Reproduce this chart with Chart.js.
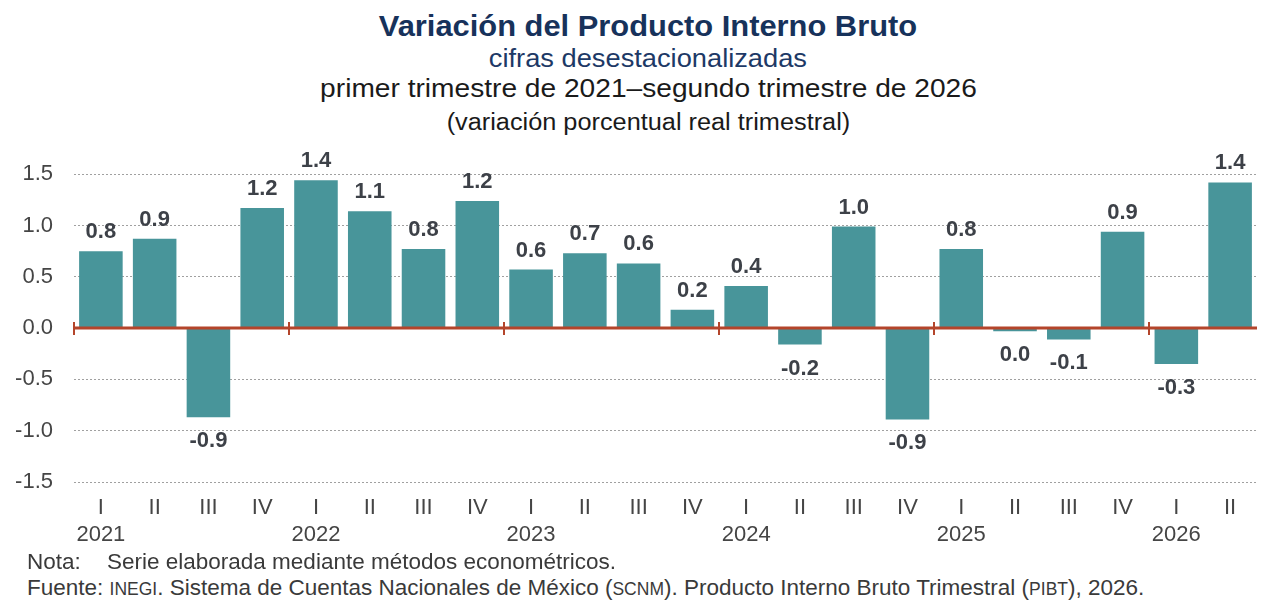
<!DOCTYPE html>
<html>
<head>
<meta charset="utf-8">
<script src="https://cdn.jsdelivr.net/npm/chart.js@4.4.1/dist/chart.umd.min.js"></script>
<style>
  html, body { margin:0; padding:0; background:#ffffff; }
  body { width:1280px; height:609px; position:relative; overflow:hidden; font-family:'Liberation Sans', Arial, sans-serif; }
  .t { position:absolute; left:0; width:1296px; text-align:center; white-space:nowrap; }
  .t span { display:inline-block; transform-origin:50% 50%; }
  .n { position:absolute; white-space:nowrap; font-size:22.5px; line-height:22px; color:#3a3a3a; }
  .sc { font-size:17.5px; }
  #wrap { position:absolute; left:0; top:140px; width:1280px; height:410px; }
</style>
</head>
<body>
<div class="t" style="top:12px;font-size:29px;line-height:29px;font-weight:bold;color:#17325b;"><span style="transform:scaleX(1.064)">Variación del Producto Interno Bruto</span></div>
<div class="t" style="top:46px;font-size:25px;line-height:25px;color:#1d3966;"><span style="transform:scaleX(1.09)">cifras desestacionalizadas</span></div>
<div class="t" style="top:75px;font-size:26px;line-height:26px;color:#1a1a1a;"><span style="transform:scaleX(1.082)">primer trimestre de 2021–segundo trimestre de 2026</span></div>
<div class="t" style="top:111px;font-size:23px;line-height:23px;color:#1a1a1a;"><span style="transform:scaleX(1.10)">(variación porcentual real trimestral)</span></div>

<div id="wrap"><canvas id="c"></canvas></div>

<div class="n" style="left:27px;top:551px;">Nota:</div>
<div class="n" style="left:107px;top:551px;">Serie elaborada mediante métodos econométricos.</div>
<div class="n" style="left:27px;top:577px;">Fuente: <span class="sc">INEGI</span>. Sistema de Cuentas Nacionales de México (<span class="sc">SCNM</span>). Producto Interno Bruto Trimestral (<span class="sc">PIBT</span>), 2026.</div>

<script>
// ---- data ----
const quarters = ["I","II","III","IV","I","II","III","IV","I","II","III","IV","I","II","III","IV","I","II","III","IV","I","II"];
const yearLabels = ["2021","","","","2022","","","","2023","","","","2024","","","","2025","","","","2026",""];
const gdpChange = [0.75,0.87,-0.87,1.17,1.44,1.14,0.77,1.24,0.57,0.73,0.63,0.18,0.41,-0.16,0.99,-0.89,0.77,-0.03,-0.11,0.94,-0.35,1.42];
const valueLabels = ["0.8","0.9","-0.9","1.2","1.4","1.1","0.8","1.2","0.6","0.7","0.6","0.2","0.4","-0.2","1.0","-0.9","0.8","0.0","-0.1","0.9","-0.3","1.4"];
const yTicks = [-1.5,-1.0,-0.5,0.0,0.5,1.0,1.5];

const categories = quarters.map((q, i) => [q, yearLabels[i]]);
const FONT = "'Liberation Sans', Arial, sans-serif";

const overlay = {
  id: 'overlay',
  afterDatasetsDraw(chart) {
    const ctx = chart.ctx;
    const xs = chart.scales.x, ys = chart.scales.y;
    const area = chart.chartArea;
    const y0 = ys.getPixelForValue(0);
    const half = (xs.getPixelForValue(1) - xs.getPixelForValue(0)) / 2;
    ctx.save();
    // zero line
    ctx.strokeStyle = '#b4452b';
    ctx.lineWidth = 3;
    ctx.beginPath();
    ctx.moveTo(area.left, y0);
    ctx.lineTo(area.right, y0);
    ctx.stroke();
    // year separators
    ctx.lineWidth = 2;
    quarters.forEach((q, i) => {
      if (q === 'I') {
        const x = Math.round(xs.getPixelForValue(i) - half);
        ctx.beginPath();
        ctx.moveTo(x, y0 - 6);
        ctx.lineTo(x, y0 + 7);
        ctx.stroke();
      }
    });
    // value labels
    const meta = chart.getDatasetMeta(0);
    ctx.font = "bold 22px " + FONT;
    ctx.fillStyle = '#3d4148';
    ctx.textAlign = 'center';
    ctx.textBaseline = 'alphabetic';
    meta.data.forEach((bar, i) => {
      const v = gdpChange[i];
      const top = Math.min(bar.y, bar.base);
      const bottom = Math.max(bar.y, bar.base);
      const y = v >= 0 ? top - 13 : bottom + 30;
      ctx.fillText(valueLabels[i], bar.x, y);
    });
    ctx.restore();
  }
};

new Chart(document.getElementById('c'), {
  type: 'bar',
  data: {
    labels: categories,
    datasets: [{
      data: gdpChange,
      backgroundColor: '#48959a',
      borderWidth: 0,
      barPercentage: 0.81,
      categoryPercentage: 1.0
    }]
  },
  options: {
    responsive: true,
    maintainAspectRatio: false,
    animation: false,
    layout: { padding: { top: 32, right: 23, left: 0, bottom: 0 } },
    plugins: { legend: { display: false }, tooltip: { enabled: false }, title: { display: false } },
    scales: {
      x: {
        grid: { display: false, drawTicks: false },
        border: { display: false },
        ticks: {
          autoSkip: false, maxRotation: 0, minRotation: 0,
          padding: 12.5,
          color: '#454545',
          font: { family: FONT, size: 22, lineHeight: 1.23 }
        },
        afterFit(scale) { scale.height = 68; }
      },
      y: {
        min: -1.5, max: 1.5,
        afterBuildTicks(scale) { scale.ticks = yTicks.map(v => ({ value: v })); },
        grid: { color: '#a0a0a0', lineWidth: 1, drawTicks: false },
        border: { display: false, dash: [2, 2] },
        ticks: {
          padding: 21,
          color: '#454545',
          font: { family: FONT, size: 22 },
          callback: v => Number(v).toFixed(1)
        },
        afterFit(scale) { scale.width = 74; }
      }
    }
  },
  plugins: [overlay]
});
</script>
</body>
</html>
